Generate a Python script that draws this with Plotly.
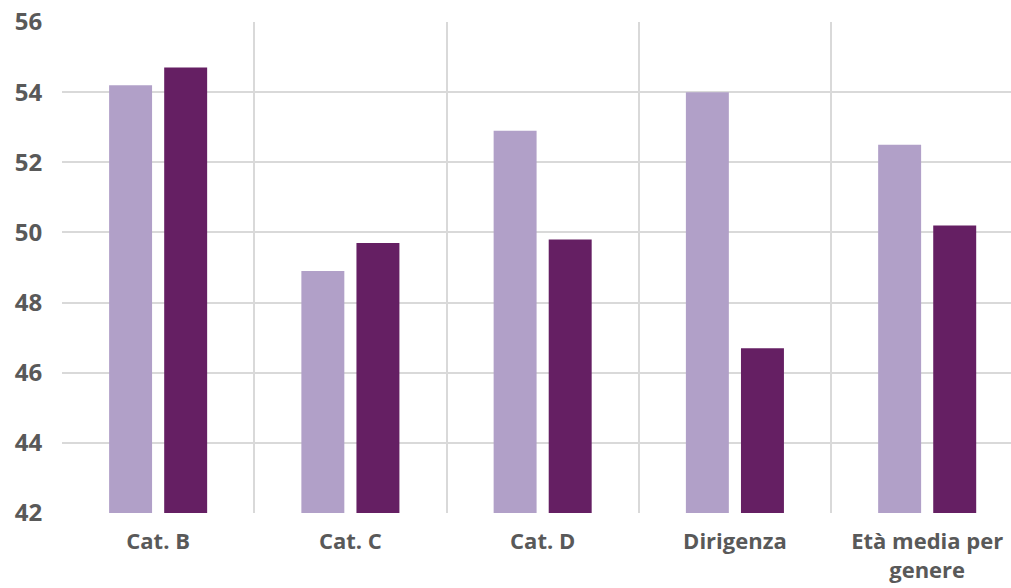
import plotly.graph_objects as go

# Average age by category, two series
categories = ["Cat. B", "Cat. C", "Cat. D", "Dirigenza", "Età media per<br>genere"]
series_a = [54.2, 48.9, 52.9, 54.0, 52.5]
series_b = [54.7, 49.7, 49.8, 46.7, 50.2]
y_ticks = [42, 44, 46, 48, 50, 52, 54, 56]

LIGHT = "#B1A0C8"
DARK = "#651F63"
GRID = "#D9D9D9"
TEXT = "#595959"
FONT = "Open Sans"

fig = go.Figure()
fig.add_bar(x=categories, y=series_a, marker_color=LIGHT, marker_line_width=0, showlegend=False)
fig.add_bar(x=categories, y=series_b, marker_color=DARK, marker_line_width=0, showlegend=False)

fig.update_layout(
    width=1011,
    height=588,
    margin=dict(l=62, r=0, t=22, b=75),
    paper_bgcolor="white",
    plot_bgcolor="white",
    barmode="group",
    bargap=0.427,
    bargroupgap=0.22,
    font=dict(family=FONT, color=TEXT),
)

fig.update_xaxes(
    type="category",
    range=[-0.5, 4.436],
    tickson="boundaries",
    showgrid=True,
    gridcolor=GRID,
    gridwidth=2,
    ticks="",
    ticklabelstandoff=13,
    automargin=False,
    showline=False,
    zeroline=False,
    tickfont=dict(family=FONT, size=22, color=TEXT, weight="bold"),
)

fig.update_yaxes(
    range=[42, 56],
    tickvals=y_ticks,
    showgrid=True,
    gridcolor=GRID,
    gridwidth=2,
    zeroline=False,
    showline=False,
    automargin=False,
    ticks="outside",
    ticklen=14,
    tickcolor="rgba(0,0,0,0)",
    tickfont=dict(family=FONT, size=24, color=TEXT, weight="bold"),
)

fig.write_html("out.html")
